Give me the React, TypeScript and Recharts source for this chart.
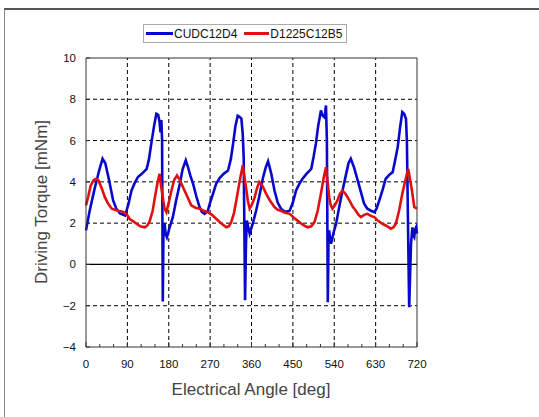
import { LineChart, Line, XAxis, YAxis, ReferenceLine } from 'recharts'

// Electrical angle [deg] and driving torque [mNm]
const CUDC_ANGLE = [
  0, 8, 18, 28, 36, 42, 50, 59, 66, 74, 85, 92, 99, 106, 113, 122, 132, 137, 142, 148,
  153, 157, 160, 162, 164, 165.5, 167, 168.5, 171, 173, 176, 182, 189, 196, 204, 210, 217, 222, 227, 233,
  240, 247, 252, 258, 265, 270, 276, 283, 291, 300, 309, 315, 320, 325, 330, 334, 338, 341, 343, 346,
  348, 350, 353, 356, 363, 370, 377, 385, 391, 396, 403, 410, 417, 424, 433, 443, 450, 457, 464, 471,
  480, 490, 495, 500, 505, 511, 515, 518, 520, 522, 524, 526, 527.5, 529, 531, 533, 538, 544, 551, 558,
  566, 571, 576, 583, 591, 598, 605, 612, 620, 627, 632, 638, 645, 652, 660, 667, 672, 678, 683, 688,
  692, 696, 698, 699, 701, 703, 705, 707, 710, 712, 714, 716, 718, 720,
]
const CUDC_TORQUE = [
  1.65, 2.6, 3.6, 4.5, 5.12, 4.9, 4.1, 3.1, 2.7, 2.47, 2.37, 2.9, 3.58, 3.95, 4.23, 4.4, 4.63, 5.1, 5.85, 6.7,
  7.3, 7.25, 6.9, 6.4, 7.0, 6.0, -1.8, 1.6, 2.0, 1.5, 1.32, 1.8, 2.3, 3.1, 3.9, 4.6, 5.04, 4.7, 4.3, 3.9,
  3.3, 2.78, 2.55, 2.45, 2.6, 3.0, 3.4, 3.9, 4.2, 4.4, 4.55, 5.1, 5.85, 6.7, 7.2, 7.15, 7.06, 6.3, 5.2, -1.74,
  1.0, 2.13, 1.8, 1.49, 2.0, 2.6, 3.3, 4.2, 4.7, 5.0, 4.4, 3.58, 3.0, 2.7, 2.55, 2.6, 3.0, 3.58, 3.9, 4.15,
  4.4, 4.63, 5.2, 5.85, 6.7, 7.46, 7.2, 7.14, 7.3, 7.7, 6.0, -1.83, 1.2, 1.65, 1.2, 1.0, 1.5, 1.97, 2.8, 3.58,
  4.4, 4.9, 5.12, 4.7, 4.07, 3.5, 2.94, 2.7, 2.6, 2.53, 2.7, 3.1, 3.6, 4.15, 4.35, 4.47, 5.0, 5.68, 6.6, 7.38,
  7.3, 7.06, 6.0, 4.39, 1.0, -2.07, -0.5, 1.0, 1.8, 1.4, 1.32, 1.7, 1.8, 1.5,
]

const D1225_ANGLE = [
  0, 5, 10, 16, 22, 27, 34, 41, 48, 56, 63, 70, 80, 88, 95, 102, 110, 118, 128, 134,
  139, 145, 150, 155, 160, 164, 168, 171, 175, 180, 186, 192, 198, 204, 211, 220, 229, 238, 247, 256,
  265, 274, 283, 294, 305, 311, 316, 322, 327, 334, 341, 345, 349, 352, 356, 361, 367, 372, 377, 384,
  392, 400, 410, 417, 424, 433, 443, 453, 464, 473, 482, 490, 497, 504, 511, 517, 522, 526, 529, 532,
  536, 541, 547, 552, 558, 565, 573, 580, 587, 593, 598, 605, 612, 620, 627, 636, 645, 655, 663, 669,
  674, 681, 688, 695, 701, 705, 709, 712, 714, 720,
]
const D1225_TORQUE = [
  2.86, 3.3, 3.8, 4.07, 4.15, 4.07, 3.7, 3.26, 2.95, 2.7, 2.65, 2.6, 2.55, 2.45, 2.2, 2.1, 1.97, 1.85, 1.8, 1.9,
  2.13, 2.6, 3.26, 3.9, 4.39, 3.7, 3.1, 2.7, 2.53, 3.0, 3.58, 4.1, 4.31, 4.1, 3.74, 3.3, 2.86, 2.75, 2.7, 2.6,
  2.53, 2.4, 2.21, 2.0, 1.8, 1.85, 2.05, 2.5, 3.1, 4.0, 4.8, 4.2, 3.58, 3.1, 2.7, 2.9, 3.26, 3.7, 3.99, 3.8,
  3.42, 3.1, 2.78, 2.65, 2.6, 2.5, 2.45, 2.25, 2.05, 1.9, 1.8, 1.85, 2.05, 2.6, 3.42, 4.2, 4.71, 3.9, 3.26, 2.9,
  2.7, 2.85, 3.1, 3.4, 3.58, 3.4, 3.1, 2.8, 2.6, 2.4, 2.29, 2.4, 2.45, 2.35, 2.29, 2.1, 1.97, 1.85, 1.73, 1.8,
  1.97, 2.6, 3.42, 4.1, 4.63, 4.1, 3.58, 3.1, 2.78, 2.7,
]

const X_TICKS = [0, 30, 60, 90, 120, 150, 180, 210, 240, 270, 300, 330, 360, 390, 420, 450, 480, 510, 540, 570, 600, 630, 660, 690, 720]
const X_GRID = [90, 180, 270, 360, 450, 540, 630]
const Y_TICKS = [-4, -2, 0, 2, 4, 6, 8, 10]
const Y_GRID = [-2, 2, 4, 6, 8]

const BLUE = '#0808cc'
const RED = '#e01010'
const FONT = '"Liberation Sans", Arial, sans-serif'

const cudc = CUDC_ANGLE.map((x, i) => ({ x, y: CUDC_TORQUE[i] }))
const d1225 = D1225_ANGLE.map((x, i) => ({ x, y: D1225_TORQUE[i] }))

function XTick({ x, y, payload }: any) {
  const major = payload.value % 90 === 0
  return (
    <g>
      <line x1={x} y1={y} x2={x} y2={y - (major ? 5 : 3)} stroke="#333" />
      {major && (
        <text x={x} y={y + 21} textAnchor="middle" fontSize={11.5} fill="#111" fontFamily={FONT}>
          {payload.value}
        </text>
      )}
    </g>
  )
}

function YTick({ x, y, payload }: any) {
  const v = payload.value
  return (
    <g>
      <line x1={x} y1={y} x2={x + 4} y2={y} stroke="#333" />
      <text x={x - 10} y={y + 4} textAnchor="end" fontSize={11.5} fill="#111" fontFamily={FONT}>
        {v < 0 ? `\u2212${Math.abs(v)}` : v}
      </text>
    </g>
  )
}

export default function App() {
  return (
    <div style={{ position: 'absolute', left: 0, top: 0, width: 539, height: 417, background: '#fff', overflow: 'hidden', fontFamily: FONT }}>
      <div style={{ position: 'absolute', left: 4, top: 8, width: 560, height: 440, borderLeft: '1px solid #888', borderTop: '2px solid #555' }} />

      <div style={{
        position: 'absolute', left: 143, top: 24, width: 202, height: 17,
        border: '1px solid #aaa', display: 'flex', alignItems: 'center', fontSize: 12, color: '#111',
      }}>
        <span style={{ width: 27, height: 3, background: BLUE, marginLeft: 2, marginRight: 1 }} />
        <span>CUDC12D4</span>
        <span style={{ width: 25, height: 3, background: RED, marginLeft: 7, marginRight: 1 }} />
        <span>D1225C12B5</span>
      </div>

      <div style={{ position: 'absolute', left: 0, top: 0 }}>
        <LineChart width={539} height={417} margin={{ top: 58, right: 122, bottom: 40, left: 56 }}>
          <XAxis
            type="number"
            dataKey="x"
            domain={[0, 720]}
            ticks={X_TICKS}
            interval={0}
            height={30}
            tickSize={0}
            tickMargin={0}
            tickLine={false}
            tick={<XTick />}
            axisLine={{ stroke: '#333' }}
            allowDuplicatedCategory={false}
          />
          <YAxis
            type="number"
            dataKey="y"
            domain={[-4, 10]}
            ticks={Y_TICKS}
            interval={0}
            width={30}
            tickSize={0}
            tickMargin={0}
            tickLine={false}
            tick={<YTick />}
            axisLine={{ stroke: '#333' }}
          />
          {X_GRID.map(v => (
            <ReferenceLine key={`gx${v}`} x={v} stroke="#000" strokeDasharray="4 3" />
          ))}
          {Y_GRID.map(v => (
            <ReferenceLine key={`gy${v}`} y={v} stroke="#000" strokeDasharray="4 3" />
          ))}
          <ReferenceLine y={0} stroke="#000" strokeWidth={1.3} />
          <ReferenceLine y={10} stroke="#333" />
          <ReferenceLine x={720} stroke="#333" />
          <Line data={cudc} dataKey="y" type="linear" stroke={BLUE} strokeWidth={2.6} dot={false} isAnimationActive={false} />
          <Line data={d1225} dataKey="y" type="linear" stroke={RED} strokeWidth={2.6} dot={false} isAnimationActive={false} />
        </LineChart>
      </div>

      <div style={{
        position: 'absolute', left: 42, top: 202, transform: 'translate(-50%, -50%) rotate(-90deg)',
        fontSize: 17, color: '#444', whiteSpace: 'nowrap',
      }}>
        Driving Torque [mNm]
      </div>
      <div style={{
        position: 'absolute', left: 251, top: 390, transform: 'translate(-50%, -50%)',
        fontSize: 17, color: '#444', whiteSpace: 'nowrap',
      }}>
        Electrical Angle [deg]
      </div>
    </div>
  )
}
